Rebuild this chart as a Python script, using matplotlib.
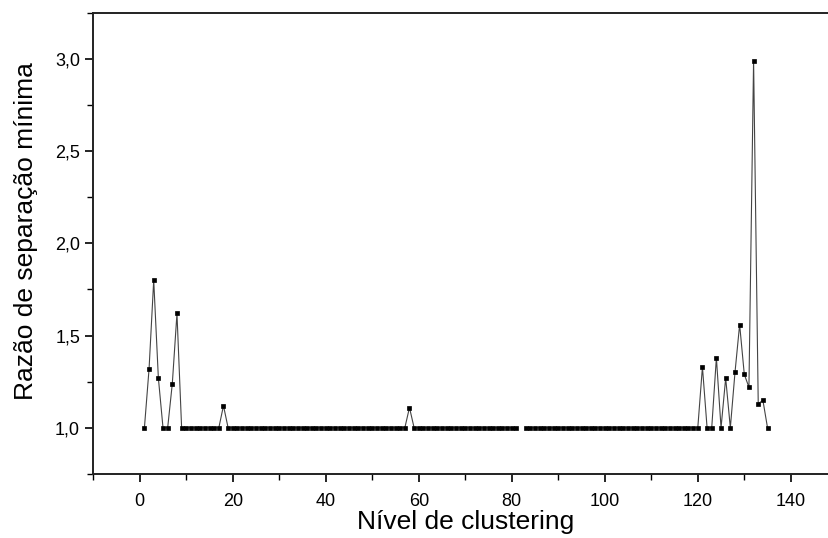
import numpy as np
import matplotlib
matplotlib.use("Agg")
import matplotlib.pyplot as plt
from matplotlib.ticker import MultipleLocator, FuncFormatter

# Nível de clustering (1..135) e razão de separação mínima
nivel = list(range(1, 136))

# valores diferentes de 1,0; o nível 82 não tem ponto
picos = {
    2: 1.32, 3: 1.80, 4: 1.27, 7: 1.24, 8: 1.62,
    18: 1.12, 58: 1.11,
    121: 1.33, 124: 1.38, 126: 1.27, 128: 1.30, 129: 1.56,
    130: 1.29, 131: 1.22, 132: 2.99, 133: 1.13, 134: 1.15,
}
sem_valor = [82]

razao = []
for n in nivel:
    if n in sem_valor:
        razao.append(np.nan)
    else:
        razao.append(picos.get(n, 1.0))

plt.rcParams["font.family"] = ["Liberation Sans", "DejaVu Sans"]

fig = plt.figure(figsize=(8.29, 5.38), dpi=100)
ax = fig.add_axes([0.1125, 0.119, 0.8975, 0.8575])

ax.plot(nivel, razao, color="#444444", linewidth=0.8,
        marker="s", markersize=2.5, markerfacecolor="black",
        markeredgecolor="black", markeredgewidth=0.5)

ax.set_xlim(-10, 150)
ax.set_ylim(0.75, 3.25)

ax.xaxis.set_major_locator(MultipleLocator(20))
ax.xaxis.set_minor_locator(MultipleLocator(10))
ax.yaxis.set_major_locator(MultipleLocator(0.5))
ax.yaxis.set_minor_locator(MultipleLocator(0.25))

ax.yaxis.set_major_formatter(FuncFormatter(lambda v, p: f"{v:.1f}".replace(".", ",")))
ax.xaxis.set_major_formatter(FuncFormatter(lambda v, p: f"{v:.0f}"))

ax.tick_params(which="major", direction="out", length=6, width=1.2,
               labelsize=13, colors="black")
ax.tick_params(which="minor", direction="out", length=4, width=1.0)
ax.tick_params(axis="x", which="major", pad=8)

for s in ax.spines.values():
    s.set_linewidth(1.4)
    s.set_color("#222222")

ax.set_xlabel("Nível de clustering", fontsize=19, labelpad=0)
ax.set_ylabel("Razão de separação mínima", fontsize=19)
ax.yaxis.set_label_coords(-0.074, 0.527)

fig.savefig("out.png", dpi=100)
